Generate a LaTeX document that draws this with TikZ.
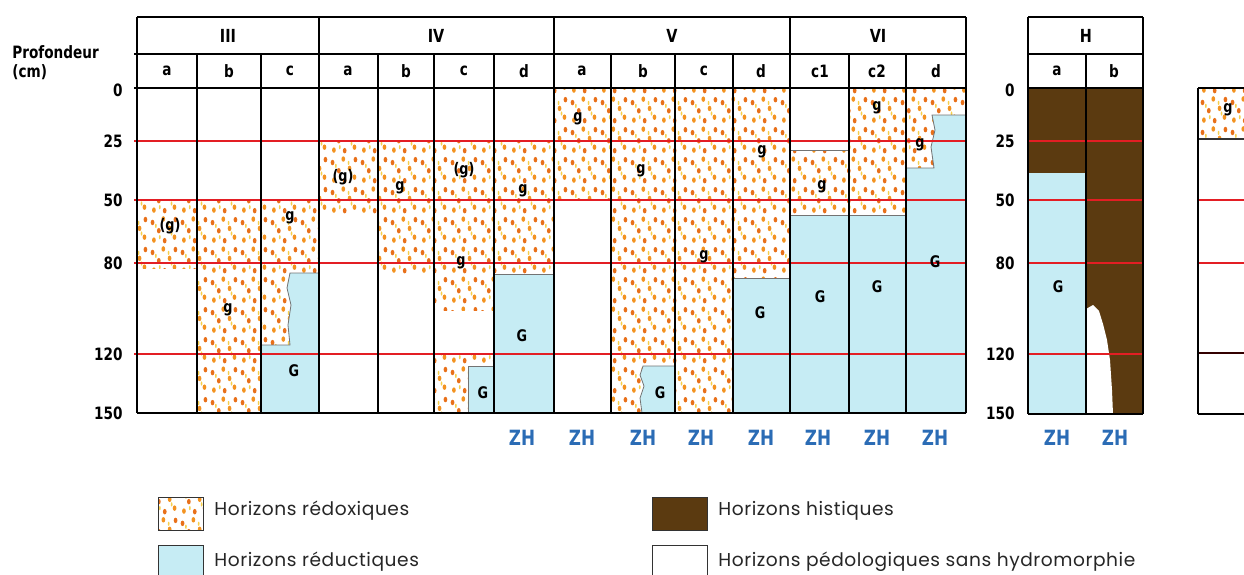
\documentclass[tikz,border=0pt]{standalone}
\usepackage{fontspec}
\usetikzlibrary{patterns}
\newfontfamily\labf{DejaVu Sans}[FakeStretch=0.8]
\newfontfamily\legf{Poppins}[LetterSpace=3]
\definecolor{redl}{HTML}{E31E24}
\definecolor{bluef}{HTML}{C6ECF4}
\definecolor{brownf}{HTML}{5B3A10}
\definecolor{dotA}{HTML}{F39321}
\definecolor{dotB}{HTML}{E8701A}
\definecolor{dotY}{HTML}{F6D04D}
\definecolor{zhc}{HTML}{2B6CB5}
\newcommand{\rdot}[2]{\pgfpathellipse{\pgfqpoint{#1pt}{#2pt}}{\pgfqpoint{0.95pt}{0pt}}{\pgfqpoint{0pt}{1.4pt}}}
\newcommand{\ydot}[2]{\pgfpathellipse{\pgfqpoint{#1pt}{#2pt}}{\pgfqpoint{0.45pt}{0pt}}{\pgfqpoint{0pt}{1.1pt}}}
\pgfdeclarepatterninherentlycolored{redox}{\pgfqpoint{0pt}{0pt}}{\pgfqpoint{15pt}{15pt}}{\pgfqpoint{15pt}{15pt}}{%
  \pgfsetfillcolor{dotA}%
  \rdot{2}{2}\rdot{12.5}{3.5}\rdot{10}{8}\rdot{6.8}{12.8}%
  \pgfusepath{fill}%
  \pgfsetfillcolor{dotB}%
  \rdot{7.5}{1.7}\rdot{4.5}{6.8}\rdot{1.3}{11}\rdot{13}{12.5}%
  \pgfusepath{fill}%
  \pgfsetfillcolor{dotY}%
  \ydot{5}{3.5}\ydot{11}{5.4}\ydot{3}{9.3}\ydot{9.5}{10.8}%
  \pgfusepath{fill}%
}
\tikzset{
  redox/.style={pattern=redox},
  bluez/.style={fill=bluef, draw=black!55, line width=0.4pt},
  brownz/.style={fill=brownf},
  gridl/.style={line width=1pt, black},
  redline/.style={line width=0.9pt, redl},
  hdr/.style={font=\labf\bfseries\fontsize{9}{10}\selectfont, inner sep=0},
  sub/.style={font=\labf\bfseries\fontsize{8.5}{10}\selectfont, inner sep=0},
  cell/.style={font=\labf\bfseries\fontsize{8}{9}\selectfont, inner sep=0},
  depth/.style={font=\labf\bfseries\fontsize{8.5}{10}\selectfont, inner sep=0, anchor=east},
  zh/.style={font=\labf\bfseries\fontsize{10.5}{12}\selectfont, text=zhc, inner sep=0},
  leg/.style={font=\legf\fontsize{9.3}{11}\selectfont, text=black!85, inner sep=0, anchor=west},
  legbox/.style={draw=black!80, line width=0.5pt}
}
\begin{document}
\begin{tikzpicture}[x=0.5pt,y=-0.5pt]
\useasboundingbox (0,0) rectangle (1244,574);
\clip (0,0) rectangle (1244,574);
% ---------- fills ----------
% III
\fill[redox] (137,200) rectangle (197,268);
\fill[redox] (197,200) rectangle (261,413);
\fill[redox] (261,200) rectangle (319,345);
\filldraw[bluez] (319,273) -- (290,273) -- (287,288) -- (291,305) -- (288,325) -- (290,345) -- (261,345) -- (261,413) -- (319,413) -- cycle;
% IV
\fill[redox] (319,141) rectangle (378,215);
\fill[redox] (378,141) rectangle (434,275);
\fill[redox] (434,141) rectangle (494,310);
\fill[redox] (434,354) rectangle (494,413);
\filldraw[bluez] (468,366) rectangle (494,413);
\fill[redox] (494,141) rectangle (554,274);
\filldraw[bluez] (494,274) rectangle (554,413);
% V
\fill[redox] (554,88) rectangle (611,200);
\fill[redox] (611,88) rectangle (675,413);
\filldraw[bluez] (675,366) -- (643,366) -- (640,375) -- (644,386) -- (640,398) -- (642,413) -- (675,413) -- cycle;
\fill[redox] (675,88) rectangle (733,413);
\fill[redox] (733,88) rectangle (790,278);
\filldraw[bluez] (733,278) rectangle (790,413);
% VI
\fill[redox] (790,150) rectangle (849,215);
\draw[black!55, line width=0.4pt] (790,150) -- (849,150);
\filldraw[bluez] (790,215) rectangle (849,413);
\fill[redox] (849,88) rectangle (906,215);
\filldraw[bluez] (849,215) rectangle (906,413);
\fill[redox] (906,88) rectangle (966,168);
\filldraw[bluez] (966,115) -- (932,115) -- (935,130) -- (931,147) -- (934,168) -- (906,168) -- (906,413) -- (966,413) -- cycle;
% H
\fill[brownz] (1028,88) rectangle (1086,173);
\fill[bluef] (1028,173) rectangle (1086,414);
\fill[brownz] (1086,88) rectangle (1143,414);
\fill[white] (1086,309) -- (1093,305) -- (1099,311) -- (1103,324) -- (1107,340) -- (1110,360) -- (1112,390) -- (1113,414) -- (1086,414) -- cycle;
% right partial
\fill[redox] (1198,88) rectangle (1244,139);
% ---------- red lines ----------
\foreach \yy in {141,200,263,354} {
  \draw[redline] (134,\yy) -- (966,\yy);
  \draw[redline] (1028,\yy) -- (1143,\yy);
}
\draw[redline] (1198,200) -- (1244,200);
\draw[redline] (1198,263) -- (1244,263);
\draw[line width=0.8pt, black!80!red] (1198,353) -- (1244,353);
\draw[line width=0.6pt, black!80] (1198,139) -- (1244,139);
% ---------- black grid ----------
\draw[gridl] (137,17) -- (966,17);
\draw[gridl] (134,54) -- (966,54);
\draw[gridl] (134,88) -- (966,88);
\draw[gridl] (137,413) -- (966,413);
\foreach \xx in {137,319,554,790,966} \draw[gridl] (\xx,17) -- (\xx,413);
\foreach \xx in {197,261,378,434,494,611,675,733,849,906} \draw[gridl] (\xx,54) -- (\xx,413);
\draw[gridl] (1028,17) -- (1143,17);
\draw[gridl] (1028,54) -- (1143,54);
\draw[gridl] (1028,88) -- (1143,88);
\draw[gridl] (1028,414) -- (1143,414);
\draw[gridl] (1028,17) -- (1028,414);
\draw[gridl] (1143,17) -- (1143,414);
\draw[gridl] (1086,54) -- (1086,414);
\draw[gridl] (1198,88) -- (1244,88);
\draw[gridl] (1198,414) -- (1244,414);
\draw[gridl] (1198,88) -- (1198,414);
% ---------- headers ----------
\node[hdr] (hIII) at (228,36) {III};
\node[hdr] (hIV) at (436,36) {IV};
\node[hdr] (hV) at (672,36) {V};
\node[hdr] (hVI) at (878,36) {VI};
\node[hdr] (hH) at (1086,36) {H};
\node[sub] (s1) at (167,71) {a};
\node[sub] (s2) at (229,71) {b};
\node[sub] (s3) at (290,71) {c};
\node[sub] (s4) at (348,71) {a};
\node[sub] (s5) at (406,71) {b};
\node[sub] (s6) at (464,71) {c};
\node[sub] (s7) at (524,71) {d};
\node[sub] (s8) at (582,71) {a};
\node[sub] (s9) at (643,71) {b};
\node[sub] (s10) at (704,71) {c};
\node[sub] (s11) at (761,71) {d};
\node[sub] (s12) at (820,71) {c1};
\node[sub] (s13) at (877,71) {c2};
\node[sub] (s14) at (936,71) {d};
\node[sub] (s15) at (1057,71) {a};
\node[sub] (s16) at (1114,71) {b};
% ---------- depth ----------
\node[font=\labf\bfseries\fontsize{8.5}{10}\selectfont, inner sep=0, anchor=west] (prof) at (12,52) {Profondeur};
\node[font=\labf\bfseries\fontsize{8.5}{10}\selectfont, inner sep=0, anchor=west] (cm) at (12,72) {(cm)};
\node[depth] (d0) at (123,90) {0};
\node[depth] (d25) at (123,141) {25};
\node[depth] (d50) at (123,200) {50};
\node[depth] (d80) at (123,263) {80};
\node[depth] (d120) at (123,354) {120};
\node[depth] (d150) at (123,413) {150};
\node[depth] (e0) at (1015,90) {0};
\node[depth] (e25) at (1015,141) {25};
\node[depth] (e50) at (1015,200) {50};
\node[depth] (e80) at (1015,263) {80};
\node[depth] (e120) at (1015,354) {120};
\node[depth] (e150) at (1015,413) {150};
% ---------- cell labels ----------
\node[cell] (c1) at (170,226) {(g)};
\node[cell] (c2) at (228,310) {g};
\node[cell] (c3) at (290,218) {g};
\node[cell] (c4) at (294,371) {G};
\node[cell] (c5) at (343,177) {(g)};
\node[cell] (c6) at (400,188) {g};
\node[cell] (c7) at (464,170) {(g)};
\node[cell] (c8) at (461,263) {g};
\node[cell] (c9) at (483,393) {G};
\node[cell] (c10) at (523,191) {g};
\node[cell] (c11) at (522,336) {G};
\node[cell] (c12) at (578,119) {g};
\node[cell] (c13) at (641,171) {g};
\node[cell] (c14) at (660,393) {G};
\node[cell] (c15) at (704,257) {g};
\node[cell] (c16) at (762,152) {g};
\node[cell] (c17) at (760,313) {G};
\node[cell] (c18) at (822,187) {g};
\node[cell] (c19) at (820,297) {G};
\node[cell] (c20) at (877,108) {g};
\node[cell] (c21) at (877,287) {G};
\node[cell] (c22) at (920,145) {g};
\node[cell] (c23) at (935,262) {G};
\node[cell] (c24) at (1058,287) {G};
\node[cell] (c25) at (1228,110) {g};
% ---------- ZH ----------
\foreach \xx/\nm in {522/z1,582/z2,643/z3,701/z4,761/z5,818/z6,877/z7,935/z8,1057/z9,1115/z10}
  \node[zh] (\nm) at (\xx,438) {ZH};
% ---------- legend ----------
\filldraw[redox, legbox] (158,497) rectangle (203,530);
\filldraw[legbox, fill=bluef] (158,545) rectangle (203,600);
\filldraw[legbox, fill=brownf] (652,497) rectangle (707,530);
\draw[legbox] (652,545) rectangle (707,600);
\node[leg] (t1) at (214,511) {Horizons rédoxiques};
\node[leg] (t2) at (214,562) {Horizons réductiques};
\node[leg] (t3) at (718,511) {Horizons histiques};
\node[leg] (t4) at (718,562) {Horizons pédologiques sans hydromorphie};
\end{tikzpicture}
\end{document}
